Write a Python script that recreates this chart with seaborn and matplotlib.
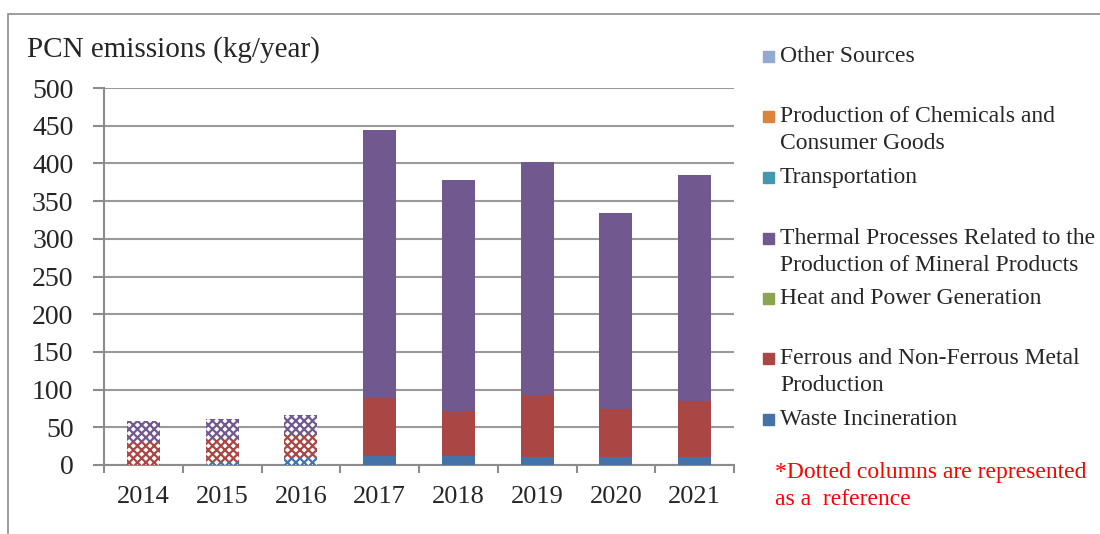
import matplotlib
matplotlib.use('Agg')
import matplotlib.pyplot as plt
from matplotlib.patches import Rectangle
import seaborn as sns
import pandas as pd
import numpy as np

# values (kg/year)
years = ['2014', '2015', '2016', '2017', '2018', '2019', '2020', '2021']
waste = [0, 4, 11, 12, 12, 11, 11, 11]
ferrous = [31, 30, 29, 77, 59, 82, 63, 74]
heat_power = [0, 0, 0, 0, 0, 0, 0, 0]
thermal = [27, 27, 26, 355, 307, 309, 260, 300]
transport = [0, 0, 0, 0, 0, 0, 0, 0]
chemicals = [0, 0, 0, 0, 0, 0, 0, 0]
other = [0, 0, 0, 0, 0, 0, 0, 0]
reference_years = ['2014', '2015', '2016']  # drawn dotted

categories = ['Waste Incineration', 'Ferrous and Non-Ferrous Metal\nProduction',
              'Heat and Power Generation',
              'Thermal Processes Related to the\nProduction of Mineral Products',
              'Transportation', 'Production of Chemicals and\nConsumer Goods', 'Other Sources']
colors = ['#4572A7', '#AA4643', '#89A54E', '#71588F', '#4198AF', '#DB843D', '#93A9CF']
note = '*Dotted columns are represented\nas a  reference'

df = pd.DataFrame({'year': years, categories[0]: waste, categories[1]: ferrous,
                   categories[2]: heat_power, categories[3]: thermal,
                   categories[4]: transport, categories[5]: chemicals,
                   categories[6]: other})
cum = df[categories].cumsum(axis=1)

sns.set_style('white')
plt.rcParams['font.family'] = ['Liberation Serif', 'DejaVu Serif']
plt.rcParams['hatch.linewidth'] = 1.6

fig = plt.figure(figsize=(11, 5.34), dpi=100)
ax = fig.add_axes([104 / 1100, 1 - 465 / 534, 630 / 1100, 377 / 534])

# overlay cumulative bars, tallest first
for cat, col in reversed(list(zip(categories, colors))):
    sns.barplot(x=df['year'], y=cum[cat], color=col, saturation=1, width=0.42,
                edgecolor='none', linewidth=0, ax=ax, zorder=3)

n = len(years)
for i, p in enumerate(ax.patches):
    if years[i % n] in reference_years:
        col = p.get_facecolor()
        p.set_facecolor('white')
        p.set_edgecolor(col)
        p.set_hatch('xxxx')
        p.set_linewidth(0)

ax.set_ylim(0, 500)
ax.set_xlim(-0.5, n - 0.5)
ax.set_yticks(np.arange(0, 501, 50))
ax.set_xlabel('')
ax.set_ylabel('')
ax.yaxis.grid(True, color='#9a9a9a', linewidth=1.5, zorder=0)
ax.set_axisbelow(True)
for s in ['top', 'right']:
    ax.spines[s].set_visible(False)
for s in ['left', 'bottom']:
    ax.spines[s].set_color('#8c8c8c')
    ax.spines[s].set_linewidth(1.5)
ax.tick_params(axis='y', direction='out', length=8, width=1.5, color='#8c8c8c',
               pad=14, labelsize=20, left=True)
ax.set_xticks(np.arange(-0.5, n, 1), minor=True)
ax.tick_params(axis='x', which='major', length=0, pad=15, labelsize=19)
ax.tick_params(axis='x', which='minor', direction='out', length=6, width=1.5,
               color='#8c8c8c', bottom=True)

fig.text(27 / 1100, 1 - 50 / 534, 'PCN emissions (kg/year)', fontsize=21,
         ha='left', va='center')

# legend, top entry first, evenly spaced; first text line centred on marker
legend_y = [56, 116, 177, 238, 298, 358, 419]
for y, cat, col in zip(legend_y, reversed(categories), reversed(colors)):
    fig.patches.append(Rectangle((763 / 1100, 1 - (y + 6) / 534), 11 / 1100, 11 / 534,
                                 transform=fig.transFigure, color=col, figure=fig))
    fig.text(780 / 1100, 1 - (y - 10) / 534, cat, fontsize=17, ha='left', va='top',
             linespacing=1.38)

fig.text(775 / 1100, 1 - 462 / 534, note, fontsize=17, color='red', ha='left',
         va='top', linespacing=1.35)

# outer chart frame
fig.patches.append(Rectangle((8 / 1100, -0.1), 1.2, 1.1 - 14 / 534, fill=False,
                             edgecolor='#8c8c8c', linewidth=1.2,
                             transform=fig.transFigure, figure=fig))

fig.savefig('out.png', dpi=100)
